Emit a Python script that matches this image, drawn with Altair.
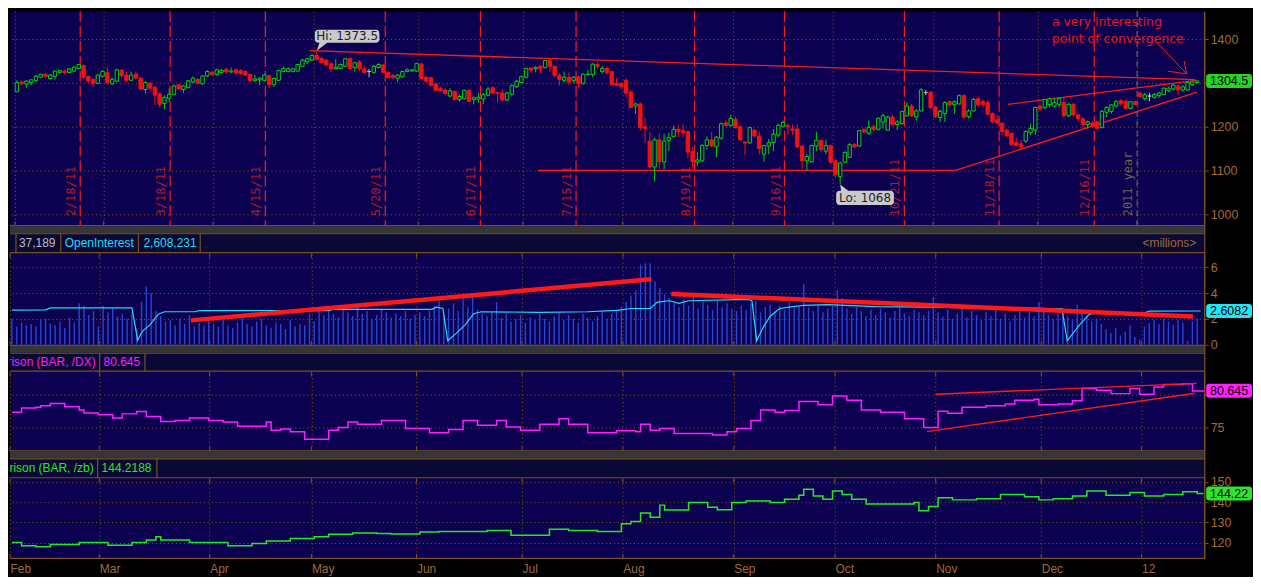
import altair as alt
import pandas as pd

# ============================================================ data
# /ES daily candles, bar index 0 = 1 Feb 2011 (one bar per session)
OPEN = [
    1280, 1302, 1297, 1301, 1305, 1313, 1320, 1310, 1315, 1324,
    1327, 1324, 1327, 1333, 1340, 1315, 1308, 1299, 1315, 1324,
    1298, 1304, 1329, 1318, 1306, 1320, 1311, 1285, 1299, 1290,
    1275, 1253, 1265, 1273, 1296, 1285, 1289, 1302, 1308, 1298,
    1316, 1324, 1319, 1324, 1331, 1325, 1330, 1328, 1326, 1319,
    1305, 1307, 1306, 1317, 1296, 1306, 1326, 1326, 1326, 1327,
    1338, 1348, 1352, 1363, 1356, 1352, 1344, 1332, 1333, 1338,
    1356, 1335, 1348, 1332, 1326, 1324, 1335, 1341, 1324, 1317,
    1311, 1314, 1326, 1327, 1327, 1343, 1313, 1312, 1298, 1288,
    1284, 1270, 1281, 1262, 1264, 1283, 1262, 1263, 1263, 1272,
    1289, 1278, 1277, 1261, 1274, 1291, 1301, 1313, 1334, 1332,
    1338, 1335, 1352, 1338, 1317, 1306, 1313, 1306, 1314, 1299,
    1319, 1319, 1342, 1326, 1333, 1326, 1299, 1299, 1306, 1279,
    1247, 1252, 1200, 1167, 1108, 1170, 1120, 1168, 1178, 1194,
    1191, 1189, 1143, 1119, 1122, 1157, 1170, 1154, 1174, 1209,
    1203, 1217, 1200, 1165, 1163, 1192, 1179, 1137, 1156, 1164,
    1181, 1201, 1203, 1195, 1195, 1156, 1122, 1120, 1156, 1169,
    1144, 1157, 1122, 1086, 1119, 1130, 1159, 1156, 1194, 1185,
    1200, 1194, 1211, 1192, 1222, 1205, 1207, 1225, 1247, 1222,
    1236, 1278, 1279, 1245, 1221, 1230, 1257, 1250, 1252, 1271,
    1223, 1236, 1264, 1258, 1255, 1230, 1216, 1208, 1192, 1185,
    1164, 1161, 1167, 1186, 1192, 1247, 1244, 1251, 1247, 1251,
    1255, 1225, 1251, 1227, 1218, 1205, 1208, 1211, 1198, 1233,
    1235, 1247, 1260, 1258, 1242, 1257, 1277, 1264, 1270, 1267,
    1271, 1273, 1282, 1286, 1293, 1284, 1284, 1296, 1301,
]
HIGH = [
    1306, 1305, 1306, 1308, 1318, 1321, 1321, 1320, 1329, 1330,
    1330, 1334, 1338, 1343, 1342, 1317, 1310, 1320, 1329, 1335,
    1313, 1332, 1331, 1326, 1326, 1326, 1313, 1304, 1302, 1294,
    1279, 1272, 1288, 1296, 1297, 1295, 1307, 1315, 1311, 1317,
    1329, 1327, 1332, 1332, 1335, 1335, 1333, 1332, 1329, 1322,
    1318, 1313, 1321, 1318, 1313, 1330, 1338, 1336, 1335, 1343,
    1355, 1358, 1366, 1373.5, 1358, 1354, 1346, 1354, 1344, 1357,
    1358, 1348, 1352, 1339, 1332, 1341, 1345, 1343, 1327, 1320,
    1320, 1328, 1333, 1331, 1346, 1346, 1316, 1313, 1299, 1291,
    1288, 1288, 1282, 1273, 1285, 1285, 1269, 1277, 1277, 1291,
    1292, 1279, 1286, 1279, 1297, 1307, 1317, 1335, 1335, 1338,
    1341, 1352, 1355, 1339, 1323, 1326, 1324, 1316, 1317, 1322,
    1330, 1345, 1348, 1339, 1338, 1327, 1311, 1301, 1310, 1284,
    1255, 1255, 1220, 1189, 1175, 1185, 1184, 1186, 1202, 1203,
    1205, 1189, 1153, 1141, 1160, 1178, 1188, 1179, 1210, 1216,
    1227, 1222, 1202, 1167, 1200, 1195, 1189, 1159, 1172, 1195,
    1207, 1214, 1207, 1205, 1205, 1157, 1137, 1159, 1189, 1170,
    1170, 1159, 1126, 1120, 1145, 1163, 1163, 1192, 1196, 1214,
    1205, 1222, 1230, 1225, 1227, 1216, 1236, 1255, 1252, 1240,
    1288, 1284, 1280, 1248, 1239, 1258, 1260, 1260, 1274, 1274,
    1240, 1266, 1269, 1262, 1260, 1233, 1227, 1211, 1196, 1186,
    1174, 1170, 1192, 1207, 1245, 1251, 1264, 1267, 1266, 1267,
    1267, 1255, 1255, 1230, 1222, 1214, 1213, 1214, 1238, 1247,
    1251, 1261, 1263, 1262, 1258, 1260, 1280, 1277, 1277, 1277,
    1280, 1289, 1291, 1298, 1296, 1295, 1302, 1304, 1307,
]
LOW = [
    1279, 1295, 1289, 1295, 1302, 1311, 1312, 1307, 1307, 1322,
    1320, 1322, 1325, 1331, 1308, 1299, 1290, 1297, 1312, 1297,
    1295, 1302, 1311, 1301, 1304, 1308, 1285, 1276, 1282, 1250,
    1244, 1240, 1257, 1272, 1285, 1277, 1288, 1300, 1297, 1296,
    1313, 1316, 1317, 1321, 1321, 1323, 1319, 1318, 1316, 1302,
    1302, 1295, 1304, 1288, 1291, 1304, 1324, 1324, 1324, 1326,
    1337, 1343, 1350, 1352, 1344, 1338, 1325, 1332, 1332, 1336,
    1330, 1326, 1327, 1321, 1313, 1321, 1333, 1323, 1310, 1310,
    1301, 1312, 1324, 1326, 1325, 1308, 1300, 1292, 1282, 1280,
    1273, 1267, 1260, 1257, 1262, 1255, 1251, 1255, 1252, 1269,
    1274, 1255, 1258, 1258, 1269, 1288, 1299, 1310, 1324, 1324,
    1323, 1333, 1324, 1313, 1294, 1301, 1296, 1299, 1289, 1296,
    1317, 1313, 1332, 1321, 1320, 1295, 1293, 1284, 1267, 1244,
    1229, 1192, 1163, 1106, 1075, 1104, 1103, 1144, 1176, 1176,
    1176, 1128, 1104, 1110, 1119, 1148, 1153, 1130, 1170, 1201,
    1200, 1196, 1169, 1135, 1161, 1176, 1137, 1120, 1137, 1144,
    1176, 1198, 1181, 1181, 1152, 1104, 1100, 1119, 1144, 1141,
    1137, 1115, 1084, 1068, 1117, 1128, 1152, 1154, 1186, 1181,
    1189, 1191, 1196, 1191, 1202, 1192, 1205, 1223, 1222, 1214,
    1235, 1272, 1241, 1220, 1211, 1211, 1244, 1229, 1251, 1218,
    1218, 1235, 1245, 1244, 1225, 1207, 1205, 1181, 1176, 1157,
    1154, 1147, 1163, 1181, 1181, 1236, 1240, 1244, 1244, 1244,
    1222, 1222, 1223, 1211, 1201, 1196, 1198, 1194, 1196, 1222,
    1230, 1244, 1249, 1240, 1240, 1249, 1266, 1260, 1258, 1264,
    1266, 1272, 1279, 1282, 1272, 1280, 1282, 1293, 1299,
]
CLOSE = [
    1301, 1298, 1304, 1307, 1315, 1320, 1315, 1318, 1327, 1328,
    1323, 1332, 1336, 1342, 1313, 1304, 1298, 1318, 1326, 1301,
    1308, 1330, 1317, 1306, 1318, 1311, 1286, 1301, 1288, 1272,
    1251, 1267, 1274, 1293, 1286, 1293, 1305, 1311, 1299, 1316,
    1326, 1319, 1330, 1329, 1325, 1327, 1323, 1321, 1318, 1305,
    1309, 1311, 1318, 1296, 1310, 1328, 1333, 1332, 1332, 1342,
    1352, 1355, 1363, 1354, 1346, 1341, 1332, 1336, 1342, 1355,
    1333, 1346, 1332, 1324, 1326, 1338, 1342, 1324, 1312, 1312,
    1318, 1326, 1330, 1330, 1344, 1310, 1304, 1294, 1283, 1282,
    1276, 1282, 1262, 1269, 1283, 1258, 1266, 1267, 1273, 1286,
    1277, 1276, 1261, 1277, 1294, 1304, 1314, 1333, 1329, 1335,
    1332, 1351, 1338, 1317, 1308, 1313, 1302, 1313, 1298, 1320,
    1320, 1343, 1338, 1333, 1323, 1296, 1294, 1291, 1277, 1244,
    1252, 1198, 1196, 1108, 1170, 1120, 1167, 1175, 1194, 1189,
    1186, 1142, 1120, 1124, 1157, 1170, 1156, 1176, 1207, 1203,
    1219, 1198, 1170, 1163, 1198, 1179, 1150, 1157, 1164, 1183,
    1203, 1210, 1201, 1192, 1154, 1122, 1132, 1157, 1169, 1148,
    1157, 1119, 1090, 1117, 1141, 1159, 1154, 1191, 1188, 1198,
    1194, 1219, 1225, 1222, 1205, 1211, 1235, 1247, 1225, 1236,
    1284, 1278, 1244, 1223, 1235, 1255, 1250, 1257, 1271, 1222,
    1236, 1262, 1250, 1250, 1229, 1211, 1208, 1189, 1179, 1159,
    1157, 1154, 1189, 1196, 1244, 1240, 1262, 1264, 1255, 1264,
    1225, 1251, 1227, 1218, 1205, 1211, 1203, 1196, 1235, 1244,
    1250, 1258, 1252, 1242, 1257, 1251, 1269, 1273, 1270, 1274,
    1277, 1288, 1288, 1295, 1284, 1291, 1301, 1302, 1304.5,
]

# daily volume, millions of contracts
VOLUME = [
    2.0, 1.4, 1.7, 1.5, 1.6, 1.4, 1.9, 2.0, 1.6, 1.5, 1.8, 1.3, 2.1, 1.7, 3.2,
    3.0, 2.3, 2.6, 1.4, 3.0, 2.5, 2.8, 2.2, 2.4, 2.0,
    2.5, 1.2, 3.3, 4.5, 4.0, 2.6, 2.2, 1.8,
    1.9, 1.5, 2.0, 1.6, 2.3, 1.4, 1.7, 1.5, 1.8,
    1.6, 1.4, 1.9, 1.5, 1.3, 1.7, 2.2, 1.6, 1.4, 1.8, 2.0, 1.5, 1.3, 1.7, 1.6,
    1.2, 1.9, 1.4, 1.6, 1.5, 2.4, 1.8,
    2.6, 2.3, 2.8, 2.4, 2.1, 2.7, 2.5, 2.2, 2.9, 2.4, 2.6, 2.0, 2.3, 2.7, 2.5,
    2.1, 2.4, 2.2, 2.6, 2.0, 2.3,
    2.5, 2.2, 2.6, 3.0, 3.6, 2.4, 2.8, 3.2, 2.6, 3.7, 2.9, 3.8, 2.7, 2.4,
    2.2, 2.5, 3.3, 2.1, 2.4, 1.8, 2.0, 2.3, 1.7, 2.1, 1.9, 2.4, 2.0, 1.8, 2.2,
    2.5, 1.9, 2.3, 2.0, 1.7, 2.4, 2.1, 1.8, 2.2, 2.6, 2.0, 2.4, 2.7, 2.9,
    3.3, 3.8, 4.2, 6.2, 6.3, 6.3, 4.9, 4.4, 3.9,
    3.6, 3.2, 2.9, 3.5, 3.0, 3.7, 2.8, 3.3, 3.1, 2.7, 3.4, 2.9, 3.2, 2.8,
    2.6, 3.0, 2.7, 3.2, 3.4, 2.5, 2.9, 3.1, 2.6, 3.0, 2.7, 3.3, 2.8, 3.0, 4.7,
    2.9, 2.6, 3.1, 2.5, 2.8, 3.0,
    4.2, 3.6, 2.8, 2.4, 2.9, 2.6, 2.2, 2.7, 2.3, 2.8, 2.5, 2.1, 2.6, 2.9, 2.4,
    2.2, 2.7, 2.5, 2.3, 2.6,
    3.7, 2.5, 2.2, 2.7, 2.0, 2.4, 2.8, 2.1, 2.6, 2.3, 1.9, 2.5, 2.2, 2.7, 2.0,
    2.4, 1.8, 2.3, 2.6, 2.1, 2.5, 2.2, 3.3,
    2.6, 2.3, 2.0, 2.4, 2.8, 2.2, 1.9, 3.1, 2.5, 2.2, 1.8, 2.0, 1.6, 1.2, 0.9,
    1.3, 0.7, 1.0, 1.5, 0.6, 0.4, 1.4,
    1.7, 1.9, 1.6, 2.0, 1.8, 1.5, 1.9, 1.7, 0.3, 1.8, 2.0, 0.037189,
]

# open interest (millions), read at the bar indices where the line bends
OI_IDX = [0, 7, 8, 25, 26.2, 27.2, 28.8, 30.5, 31.8, 38,
          39, 66, 67, 87.5, 88.5, 89.8, 90.8, 92.5, 94.5, 96.2,
          97.8, 110, 120, 126, 129, 133, 134.5, 137, 139, 141,
          153.5, 154.2, 155.2, 156.5, 158, 160, 162, 165, 170, 180,
          192, 200, 210, 216, 218.8, 219.9, 222.5, 224.5, 226, 236,
          237, 247.7]
OI_VAL = [2.68, 2.7, 2.85, 2.85, 0.35, 1.05, 1.55, 2.35, 2.55, 2.55,
          2.63, 2.63, 2.73, 2.73, 2.9, 2.8, 0.3, 0.85, 1.55, 2.4,
          2.55, 2.5, 2.55, 2.65, 2.8, 2.8, 3.3, 3.4, 3.2, 3.4,
          3.5, 3.4, 0.3, 1.3, 2.2, 2.8, 2.9, 3.05, 3.1, 2.95,
          2.9, 2.85, 2.85, 2.8, 2.8, 0.3, 1.55, 2.35, 2.45, 2.45,
          2.6, 2.608231]

# /DX comparison: bar index where each step starts, and its level
DX_IDX = [0, 2, 5, 6, 8, 11, 14, 15, 18, 21, 23, 26, 28, 31, 34, 37, 41, 44, 47, 53,
          54, 56, 58, 61, 66, 68, 70, 72, 77, 82, 87, 91, 94, 97, 101, 103, 106, 110, 114, 116,
          120, 126, 130, 131, 133, 135, 138, 146, 149, 151, 154, 156, 159, 161, 164, 168, 171, 174, 177, 181,
          186, 190, 193, 195, 198, 203, 207, 209, 213, 214, 218, 221, 223, 226, 229, 233, 235, 238, 240, 244,
          246, 248.3]
DX_VAL = [77.35, 78.0, 78.1, 78.35, 78.7, 78.2, 77.7, 77.25, 76.95, 76.45, 77.1, 77.45, 76.7, 75.95, 76.1, 76.45, 76.1, 75.85, 75.2, 75.85,
          74.6, 74.8, 74.35, 73.2, 74.6, 75.0, 75.85, 75.5, 76.1, 74.85, 74.2, 74.7, 76.1, 75.35, 76.1, 75.1, 74.6, 75.5, 76.35, 75.5,
          74.2, 74.5, 74.35, 75.5, 74.6, 74.85, 74.1, 73.85, 74.35, 74.85, 76.1, 77.7, 77.35, 77.6, 79.0, 78.5, 79.85, 79.2, 77.7, 77.35,
          76.35, 75.0, 77.5, 77.2, 78.1, 78.35, 78.6, 79.2, 79.35, 78.5, 78.6, 79.1, 81.0, 80.7, 80.2, 81.0, 80.1, 81.2, 81.6, 81.7,
          80.6, 80.645]

# /ZB comparison: bar index where each step starts, and its level
ZB_IDX = [0, 2, 5, 8, 14, 20, 25, 28, 30, 31, 37, 45, 50, 53, 58, 63, 66, 71, 76, 79,
          85, 89, 99, 104, 112, 116, 122, 127, 129, 131, 133, 135, 136, 141, 145, 147, 150, 153, 158, 161,
          164, 165, 167, 169, 171, 173, 175, 178, 188, 189, 191, 193, 196, 201, 206, 211, 214, 217, 221, 224,
          228, 233, 236, 240, 244, 247, 248.3]
ZB_VAL = [120.0, 118.4, 117.9, 119.0, 120.0, 118.7, 120.0, 121.2, 122.8, 121.2, 120.0, 118.4, 119.5, 120.8, 122.0, 122.9, 124.1, 124.7, 124.4, 124.2,
          125.2, 125.5, 126.0, 123.6, 126.5, 125.9, 125.5, 129.3, 130.4, 134.6, 132.5, 138.5, 136.1, 139.8, 137.4, 136.2, 139.8, 140.6, 139.8, 141.4,
          143.4, 146.3, 143.0, 141.4, 145.5, 143.8, 141.4, 139.0, 139.8, 135.7, 137.8, 142.2, 141.1, 141.7, 143.8, 142.7, 141.1, 141.7, 143.0, 145.5,
          143.4, 144.7, 143.0, 143.8, 145.1, 144.2188, 144.2188]

# time axis: month starts (bar index) and their labels
MONTH_POS = [-0.41, 18.2, 41.2, 62.4, 84.3, 106.3, 127.3, 150.4, 171.5, 192.5, 214.5, 235.4]
MONTH_LABELS = ["Feb", "Mar", "Apr", "May", "Jun", "Jul", "Aug", "Sep", "Oct", "Nov", "Dec", "12"]
EXPIRY_POS = [13.3, 32.2, 52.2, 77.4, 97.4, 117.5, 142.4, 161.3, 186.5, 206.4, 226.4]
EXPIRY_LABELS = ["2/18/11", "3/18/11", "4/15/11", "5/20/11", "6/17/11", "7/15/11",
                 "8/19/11", "9/16/11", "10/21/11", "11/18/11", "12/16/11"]
YEAR_POS = [235.4]
YEAR_LABELS = ["2011 year"]

ES_TICKS = [1000, 1100, 1200, 1300, 1400]
OI_TICKS = [0, 2, 4, 6]
DX_TICKS = [75, 80]
ZB_TICKS = [120, 130, 140, 150]
# tick labels that sit fully under the last-value box
ES_HIDDEN = [1300]
DX_HIDDEN = [80]

# drawn trend lines (bar index, value)
ES_LINE_X1 = [61.5, 109.5, 197.1, 208.2]
ES_LINE_Y1 = [1373.6, 1100, 1100, 1251]
ES_LINE_X2 = [247.6, 197.1, 248.0, 247.7]
ES_LINE_Y2 = [1307.5, 1100, 1278.9, 1306]
OI_LINE_X1 = [37.3, 137.4]
OI_LINE_Y1 = [1.88, 3.93]
OI_LINE_X2 = [133.2, 246.1]
OI_LINE_Y2 = [5.06, 2.18]
DX_LINE_X1 = [190.7, 192.5]
DX_LINE_Y1 = [74.39, 80.11]
DX_LINE_X2 = [246.5, 246.9]
DX_LINE_Y2 = [80.26, 81.77]
ARROW_X1 = [239.1, 245.8, 245.8]
ARROW_Y1 = [1397.8, 1320.7, 1320.7]
ARROW_X2 = [245.8, 241.9, 245.3]
ARROW_Y2 = [1320.7, 1326.7, 1350.0]
NOTE_X = [217.5, 217.5]
NOTE_Y = [1438.0, 1400.4]
NOTE_TEXT = ["a very interesting", "point of convergence"]

OI_NAME = "OpenInterest"
UNIT_LABEL = "<millions>"
DX_NAME = "Comparison (BAR, /DX)"
ZB_NAME = "Comparison (BAR, /zb)"

# ============================================================ style / layout
W = 1199
H_TOP = 216
SEP = 7
X_DOMAIN = [-0.41, 248.45]

PLOT_BG = "#0c0050"
HEAD_BG = "#0a0834"
SEP_BG = "#363636"
FRAME = "#7a5222"
TXT_BROWN = "#a06a34"
GRID_C = "#86601f"
UP = "#00d400"
DOWN = "#f01212"
FLAT = "#bdbdbd"
TREND_RED = "#ff1a1a"
VOL_BLUE = "#2846d6"
CYAN = "#1fdcf2"
MAGENTA = "#ff1cff"
ZB_GREEN = "#22ea22"
SANS = "Liberation Sans"
MONO = "DejaVu Sans Mono"

BOX_PATH = ("M-0.87,-0.304L0.87,-0.304Q1,-0.304 1,-0.174L1,0.174Q1,0.304 0.87,0.304"
            "L-0.87,0.304Q-1,0.304 -1,0.174L-1,-0.174Q-1,-0.304 -0.87,-0.304Z")
BOX_SIZE = 46 * 46
HI_PATH = ("M0.06,-0.68L1.91,-0.68Q2.03,-0.68 2.03,-0.56L2.03,-0.38Q2.03,-0.26 1.91,-0.26"
           "L0.34,-0.26L0,0L0.09,-0.26L0.06,-0.26Q-0.06,-0.26 -0.06,-0.38L-0.06,-0.56Q-0.06,-0.68 0.06,-0.68Z")
LO_PATH = ("M-0.01,0.2L0.03,0.2L0,0L0.26,0.2L1.62,0.2Q1.74,0.2 1.74,0.32L1.74,0.54Q1.74,0.66 1.62,0.66"
           "L-0.01,0.66Q-0.13,0.66 -0.13,0.54L-0.13,0.32Q-0.13,0.2 -0.01,0.2Z")
CALLOUT_SIZE = 62 * 62

ONE = pd.DataFrame({"k": [0]})
months = pd.DataFrame({"pos": MONTH_POS, "label": MONTH_LABELS})

xscale = alt.Scale(domain=X_DOMAIN, nice=False, zero=False)
label_expr = ("[" + ",".join("'%s'" % m for m in MONTH_LABELS) + "][indexof(["
              + ",".join(str(p) for p in MONTH_POS) + "], datum.value)]")

AX_X_PLAIN = alt.Axis(values=MONTH_POS, grid=True, gridColor=GRID_C, gridDash=[1, 3], gridWidth=1,
                      ticks=False, domain=False, labels=False, title=None)
AX_X_LAB = alt.Axis(values=MONTH_POS, grid=True, gridColor=GRID_C, gridDash=[1, 3], gridWidth=1,
                    ticks=False, domain=False, labels=True, labelExpr=label_expr, labelAlign="left",
                    labelFlush=False, labelOverlap=False, labelColor=TXT_BROWN, labelFont=SANS,
                    labelFontSize=12, labelPadding=5, title=None)


def y_axis(vals, hidden=()):
    hid = "[" + ",".join(str(h) for h in hidden) + "]"
    expr = f"indexof({hid}, datum.value) >= 0 ? '' : format(datum.value, 'd')"
    return alt.Axis(orient="right", values=vals, grid=True, gridColor=GRID_C, gridDash=[1, 3], gridWidth=1,
                    domain=True, domainColor=FRAME, domainWidth=1.5, ticks=True, tickColor=FRAME, tickSize=4,
                    labelColor=TXT_BROWN, labelFont=SANS, labelFontSize=12.5, labelPadding=2,
                    labelExpr=expr, labelOverlap=False, title=None)


def value_box(Yf, value, text, color):
    df = pd.DataFrame({"v": [value], "lab": [text]})
    return [
        alt.Chart(df).mark_point(shape=BOX_PATH, size=BOX_SIZE, filled=True, color=color,
                                 opacity=1, strokeWidth=0).encode(x=alt.value(W + 25), y=Yf("v")),
        alt.Chart(df).mark_text(align="center", baseline="middle", font=SANS, fontSize=12.5,
                                color="#000000").encode(x=alt.value(W + 25), y=Yf("v"), text="lab:N"),
    ]


# ============================================================ top panel (/ES)
def top_panel():
    ysc = alt.Scale(domain=[972.7, 1463.9], nice=False, zero=False)
    yax = y_axis(ES_TICKS, ES_HIDDEN)

    def Xf(f):
        return alt.X(f"{f}:Q", scale=xscale, axis=AX_X_PLAIN)

    def Yf(f):
        return alt.Y(f"{f}:Q", scale=ysc, axis=yax)

    n = min(len(OPEN), len(HIGH), len(LOW), len(CLOSE))
    es = pd.DataFrame({"i": list(range(n)), "open": OPEN[:n], "high": HIGH[:n],
                       "low": LOW[:n], "close": CLOSE[:n]})
    es["dir"] = ["up" if c > o else ("down" if c < o else "flat") for o, c in zip(es["open"], es["close"])]
    stroke_sc = alt.Scale(domain=["up", "down", "flat"], range=[UP, DOWN, FLAT])
    fill_sc = alt.Scale(domain=["up", "down", "flat"], range=[PLOT_BG, DOWN, FLAT])

    exp = pd.DataFrame({"pos": EXPIRY_POS, "label": EXPIRY_LABELS})
    yr = pd.DataFrame({"pos": YEAR_POS, "label": YEAR_LABELS})
    lines = pd.DataFrame({"x1": ES_LINE_X1, "y1": ES_LINE_Y1, "x2": ES_LINE_X2, "y2": ES_LINE_Y2})
    arrow = pd.DataFrame({"x1": ARROW_X1, "y1": ARROW_Y1, "x2": ARROW_X2, "y2": ARROW_Y2})
    note = pd.DataFrame({"x": NOTE_X, "y": NOTE_Y, "t": NOTE_TEXT})

    hi_v = max(HIGH)
    lo_v = min(LOW)
    hi = pd.DataFrame({"i": [HIGH.index(hi_v)], "p": [hi_v], "lab": [f"Hi: {hi_v}"]})
    lo = pd.DataFrame({"i": [LOW.index(lo_v)], "p": [lo_v], "lab": [f"Lo: {lo_v}"]})

    layers = [
        alt.Chart(exp).mark_rule(color=TREND_RED, strokeWidth=1.2, strokeDash=[11, 4]).encode(
            x=Xf("pos"), y=alt.value(0), y2=alt.value(H_TOP)),
        alt.Chart(yr).mark_rule(color="#7a7568", strokeWidth=1, strokeDash=[6, 4]).encode(
            x=Xf("pos"), y=alt.value(0), y2=alt.value(H_TOP)),
        alt.Chart(exp).mark_text(angle=270, align="left", baseline="bottom", dy=-2, font=MONO,
                                 fontSize=12, color="#b81a24").encode(
            x=Xf("pos"), y=alt.value(H_TOP - 10), text="label:N"),
        alt.Chart(yr).mark_text(angle=270, align="left", baseline="bottom", dy=-2, font=MONO,
                                fontSize=12, color="#6f6548").encode(
            x=Xf("pos"), y=alt.value(H_TOP - 10), text="label:N"),
        alt.Chart(months).mark_rule(color=FRAME).encode(
            x=Xf("pos"), y=alt.value(H_TOP - 5), y2=alt.value(H_TOP)),
        alt.Chart(ONE).mark_rule(color=FRAME, strokeWidth=1.5).encode(
            x=alt.value(0), x2=alt.value(W), y=alt.value(H_TOP - 0.5)),
        alt.Chart(lines).mark_rule(color=TREND_RED, strokeWidth=1.3).encode(
            x=Xf("x1"), x2="x2", y=Yf("y1"), y2="y2"),
        alt.Chart(es).mark_rule(strokeWidth=1).encode(
            x=Xf("i"), y=Yf("low"), y2="high",
            stroke=alt.Stroke("dir:N", scale=stroke_sc, legend=None)),
        alt.Chart(es).mark_bar(size=3.4, strokeWidth=1).encode(
            x=Xf("i"), y=Yf("open"), y2="close",
            fill=alt.Fill("dir:N", scale=fill_sc, legend=None),
            stroke=alt.Stroke("dir:N", scale=stroke_sc, legend=None)),
        alt.Chart(hi).mark_point(shape=HI_PATH, size=CALLOUT_SIZE, filled=True, color="#cacaca",
                                 opacity=1, strokeWidth=0).encode(x=Xf("i"), y=Yf("p")),
        alt.Chart(hi).mark_text(dx=30.5, dy=-14.6, align="center", baseline="middle",
                                font="DejaVu Sans", fontSize=12, color="#1e1e1e").encode(
            x=Xf("i"), y=Yf("p"), text="lab:N"),
        alt.Chart(lo).mark_point(shape=LO_PATH, size=CALLOUT_SIZE, filled=True, color="#cacaca",
                                 opacity=1, strokeWidth=0).encode(x=Xf("i"), y=Yf("p")),
        alt.Chart(lo).mark_text(dx=25, dy=13.3, align="center", baseline="middle",
                                font="DejaVu Sans", fontSize=12, color="#1e1e1e").encode(
            x=Xf("i"), y=Yf("p"), text="lab:N"),
        alt.Chart(note).mark_text(align="left", baseline="middle", font="DejaVu Sans",
                                  fontSize=12.5, color="#e41818").encode(
            x=Xf("x"), y=Yf("y"), text="t:N"),
        alt.Chart(arrow).mark_rule(color=TREND_RED, strokeWidth=1).encode(
            x=Xf("x1"), x2="x2", y=Yf("y1"), y2="y2"),
    ] + value_box(Yf, CLOSE[-1], f"{CLOSE[-1]}", "#22d622")
    return alt.layer(*layers).properties(width=W, height=H_TOP)


# ============================================================ lower panels
def lower_panel(head_h, plot_h, v_lo, v_hi, ticks, hidden, texts, dividers, data_layers,
                box_value, box_text, box_color, x_axis):
    H = SEP + head_h + plot_h
    y_top = v_lo + (v_hi - v_lo) * H / plot_h
    ysc = alt.Scale(domain=[v_lo, y_top], nice=False, zero=False)
    yax = y_axis(ticks, hidden)

    def Xf(f):
        return alt.X(f"{f}:Q", scale=xscale, axis=x_axis)

    def Yf(f):
        return alt.Y(f"{f}:Q", scale=ysc, axis=yax)

    hb = SEP + head_h
    layers = [
        alt.Chart(ONE).mark_rect(color=SEP_BG).encode(
            x=alt.value(0), x2=alt.value(W), y=alt.value(0), y2=alt.value(SEP)),
        alt.Chart(ONE).mark_rect(color=HEAD_BG).encode(
            x=alt.value(0), x2=alt.value(W), y=alt.value(SEP), y2=alt.value(hb)),
    ]
    for yy in (SEP + 0.5, hb - 0.5, H - 0.5):
        layers.append(alt.Chart(ONE).mark_rule(color=FRAME, strokeWidth=1.2).encode(
            x=alt.value(0), x2=alt.value(W), y=alt.value(yy)))
    for px in dividers:
        layers.append(alt.Chart(ONE).mark_rule(color=FRAME, strokeWidth=1.2).encode(
            x=alt.value(px), y=alt.value(SEP), y2=alt.value(hb)))
    for txt, px, color, align, clip in texts:
        layers.append(alt.Chart(ONE).mark_text(align=align, baseline="middle", font=SANS, fontSize=12,
                                               color=color, clip=clip).encode(
            x=alt.value(px), y=alt.value((SEP + hb) / 2), text=alt.value(txt)))
    layers.append(alt.Chart(months).mark_rule(color=FRAME).encode(
        x=Xf("pos"), y=alt.value(hb), y2=alt.value(hb + 5)))
    layers.append(alt.Chart(months).mark_rule(color=FRAME).encode(
        x=Xf("pos"), y=alt.value(H - 5), y2=alt.value(H)))
    layers += data_layers(Xf, Yf)
    layers += value_box(Yf, box_value, box_text, box_color)
    return alt.layer(*layers).properties(width=W, height=H)


def oi_layers(Xf, Yf):
    vol = pd.DataFrame({"i": list(range(len(VOLUME))), "vol": VOLUME})
    n = min(len(OI_IDX), len(OI_VAL))
    oi = pd.DataFrame({"i": OI_IDX[:n], "v": OI_VAL[:n]})
    tl = pd.DataFrame({"x1": OI_LINE_X1, "y1": OI_LINE_Y1, "x2": OI_LINE_X2, "y2": OI_LINE_Y2})
    return [
        alt.Chart(vol).mark_rule(color=VOL_BLUE, strokeWidth=1.4).encode(
            x=Xf("i"), y=Yf("vol"), y2=alt.datum(0)),
        alt.Chart(oi).mark_line(color=CYAN, strokeWidth=1.2).encode(x=Xf("i"), y=Yf("v")),
        alt.Chart(tl).mark_rule(color=TREND_RED, strokeWidth=4.5).encode(
            x=Xf("x1"), x2="x2", y=Yf("y1"), y2="y2"),
    ]


def dx_layers(Xf, Yf):
    n = min(len(DX_IDX), len(DX_VAL))
    dx = pd.DataFrame({"i": DX_IDX[:n], "v": DX_VAL[:n]})
    tl = pd.DataFrame({"x1": DX_LINE_X1, "y1": DX_LINE_Y1, "x2": DX_LINE_X2, "y2": DX_LINE_Y2})
    return [
        alt.Chart(dx).mark_line(color=MAGENTA, strokeWidth=1.5, interpolate="step-after").encode(
            x=Xf("i"), y=Yf("v")),
        alt.Chart(tl).mark_rule(color=TREND_RED, strokeWidth=1.4).encode(
            x=Xf("x1"), x2="x2", y=Yf("y1"), y2="y2"),
    ]


def zb_layers(Xf, Yf):
    n = min(len(ZB_IDX), len(ZB_VAL))
    zb = pd.DataFrame({"i": ZB_IDX[:n], "v": ZB_VAL[:n]})
    return [
        alt.Chart(zb).mark_line(color=ZB_GREEN, strokeWidth=1.5, interpolate="step-after").encode(
            x=Xf("i"), y=Yf("v")),
    ]


panel_oi = lower_panel(
    20, 93, -0.09, 7.09, OI_TICKS, [],
    [(f"{VOLUME[-1] * 1e6:,.0f}", 9, "#bdbdbd", "left", False),
     (OI_NAME, 55, CYAN, "left", False),
     (f"{OI_VAL[-1] * 1e6:,.0f}", 134, CYAN, "left", False),
     (UNIT_LABEL, W - 8, TXT_BROWN, "right", False)],
    [6, 51, 129, 191], oi_layers, OI_VAL[-1], f"{OI_VAL[-1]:.4f}", "#1ee6f6", AX_X_PLAIN)

panel_dx = lower_panel(
    19, 80, 71.36, 83.56, DX_TICKS, DX_HIDDEN,
    [(DX_NAME, 86, MAGENTA, "right", True),
     (str(DX_VAL[-1]), 94, MAGENTA, "left", False)],
    [90, 135.5], dx_layers, DX_VAL[-1], str(DX_VAL[-1]), "#ff22ff", AX_X_PLAIN)

panel_zb = lower_panel(
    20, 81, 111.87, 151.8, ZB_TICKS, [],
    [(ZB_NAME, 84, ZB_GREEN, "right", True),
     (str(ZB_VAL[-1]), 92, ZB_GREEN, "left", False)],
    [88, 147.5], zb_layers, ZB_VAL[-1], f"{ZB_VAL[-1]:.2f}", "#2ee42e", AX_X_LAB)

chart = alt.vconcat(top_panel(), panel_oi, panel_dx, panel_zb, spacing=0, bounds="flush").properties(
    padding=0
).configure(background="#000000").configure_view(fill=PLOT_BG, stroke="transparent")

chart.save("out.html", embed_options={"renderer": "svg", "actions": False})
